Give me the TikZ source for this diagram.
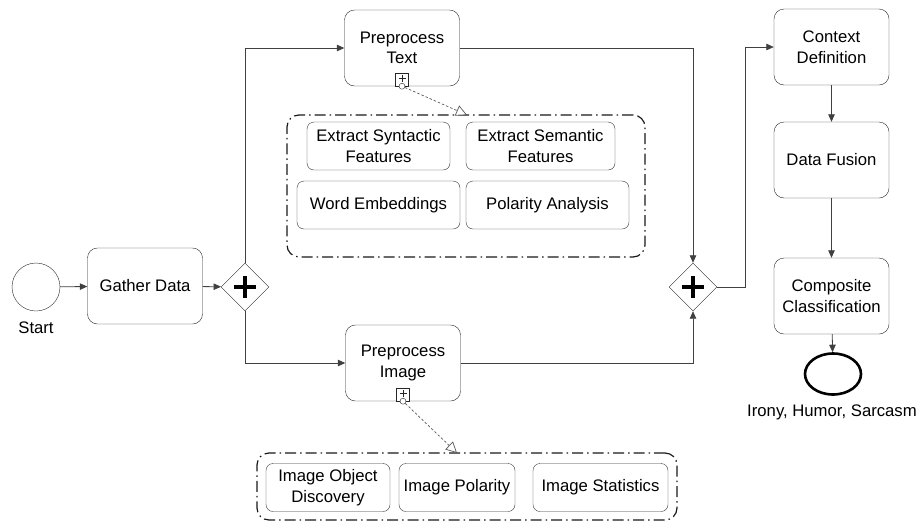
\documentclass[tikz,border=0pt]{standalone}
\usepackage{fontspec}
\setmainfont{Liberation Sans}
\usetikzlibrary{positioning,calc,arrows.meta,shapes.geometric}
\newcommand*{\txt}{\fontsize{16.7}{20.5}\selectfont}

\begin{document}
\begin{tikzpicture}[x=1pt,y=-1pt,
  task/.style={draw=black!85,rounded corners=10pt,minimum width=115pt,
    minimum height=76pt,align=center,font=\txt,inner sep=2pt},
  subtask/.style={draw=black!80,rounded corners=7pt,minimum height=48pt,
    align=center,font=\txt,inner sep=1pt},
  grp/.style={draw=black!90,line width=1.2pt,rounded corners=12pt,
    dash pattern=on 11pt off 4pt on 1.5pt off 4pt},
  gate/.style={draw=black!85,diamond,aspect=1,minimum size=48pt,inner sep=0pt},
  flow/.style={draw=black!75,line width=0.8pt,-{Triangle[length=7.5pt,width=6.5pt]}},
  assoc/.style={draw=black!65,line width=0.7pt,dash pattern=on 2.5pt off 2pt,
    -{Triangle[open,length=11pt,width=11pt,fill=white]}},
  marker/.style={draw=black!85,minimum size=13pt,inner sep=0pt,anchor=south,fill=white},
  dot/.style={draw=black!85,circle,minimum size=6pt,inner sep=0pt,fill=white}]
\useasboundingbox (0,0) rectangle (919,523);
% Start event and gathering
\node[draw=black!85,circle,minimum size=48pt,inner sep=0pt] (start) at (36,287) {};
\node[font=\txt] (startlbl) at (36,328) {Start};
\node[task] (gather) at (145,286) {Gather Data};
\node[gate] (split) at (245,287) {};
% Two branches
\node[task] (ptext) at (402,48) {Preprocess\\Text};
\node[task] (pimage) at (403,363) {Preprocess\\Image};
\node[gate] (join) at (693,287) {};
% Plus signs in gateways
\foreach \g in {split,join}{
  \draw[line width=4.5pt] ($(\g.center)+(-11,0)$) -- ($(\g.center)+(11,0)$);
  \draw[line width=4.5pt] ($(\g.center)+(0,-11)$) -- ($(\g.center)+(0,11)$);
}
% Subprocess groups
\node[grp,minimum width=358pt,minimum height=142pt] (tgroup) at (466,186) {};
\node[subtask,minimum width=143pt] (syn) at (378.5,146) {Extract Syntactic\\Features};
\node[subtask,minimum width=149pt] (sem) at (540.5,146) {Extract Semantic\\Features};
\node[subtask,minimum width=163pt] (emb) at (378.5,205) {Word Embeddings};
\node[subtask,minimum width=163pt] (pol) at (547.5,205) {Polarity Analysis};
\node[grp,minimum width=420pt,minimum height=67pt] (igroup) at (467,486.5) {};
\node[subtask,minimum width=124pt] (iod) at (328,487.5) {Image Object\\Discovery};
\node[subtask,minimum width=116pt] (ipo) at (457,487.5) {Image Polarity};
\node[subtask,minimum width=135pt] (ist) at (600.5,487.5) {Image Statistics};
% Collapsed subprocess markers
\node[marker] (tmark) at (ptext.south) {};
\node[marker] (imark) at (pimage.south) {};
\foreach \m in {tmark,imark}{
  \draw[black!85,line width=0.6pt] ($(\m.center)+(-3.5,-1.5)$) -- ($(\m.center)+(3.5,-1.5)$);
  \draw[black!85,line width=0.6pt] ($(\m.center)+(0,-5)$) -- ($(\m.center)+(0,2)$);
}
\node[dot] (tdot) at (tmark.south) {};
\node[dot] (idot) at (imark.south) {};
\coordinate (ttip) at (467,115);
\coordinate (itip) at (457,453);
\draw[assoc] (tdot) -- (ttip);
\draw[assoc] (idot) -- (itip);
% Right column
\node[task] (ctx) at (831.5,47) {Context\\Definition};
\node[task] (fus) at (831.5,160) {Data Fusion};
\node[task] (cls) at (831.5,296) {Composite\\Classification};
\node[draw=black,line width=2.6pt,ellipse,minimum width=56pt,minimum height=41pt,
  inner sep=0pt] (end) at (833,374) {};
\node[font=\txt] (endlbl) at (832,412) {Irony, Humor, Sarcasm};
% Sequence flows
\draw[flow] (start) -- (gather);
\draw[flow] (gather) -- (split);
\draw[flow] (split.north) |- (ptext.west);
\draw[flow] (split.south) |- (pimage.west);
\draw[flow] (ptext.east) -| (join.north);
\draw[flow] (pimage.east) -| (join.south);
\coordinate (bend) at (745,287);
\draw[flow] (join.east) -- (bend) |- (ctx.west);
\draw[flow] (ctx) -- (fus);
\draw[flow] (fus) -- (cls);
\draw[flow] (cls) -- (end);
\end{tikzpicture}
\end{document}
